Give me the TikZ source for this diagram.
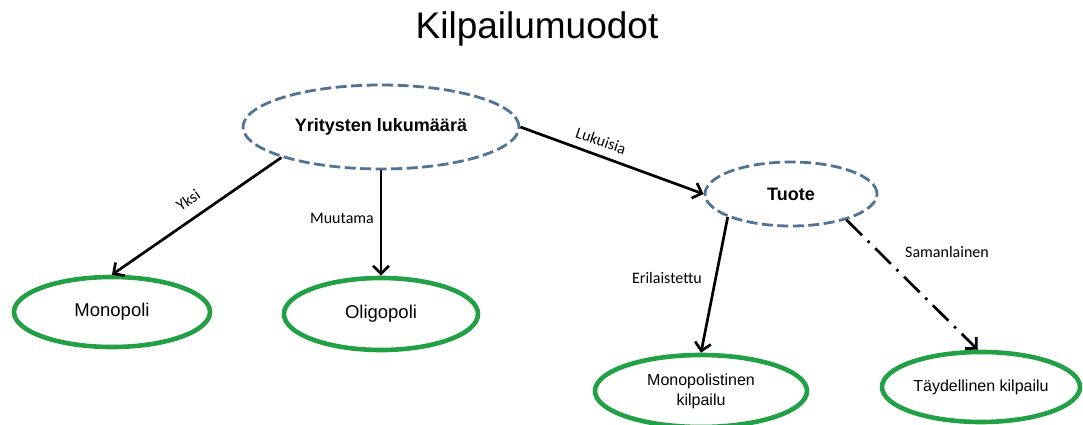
\documentclass[tikz,border=0pt]{standalone}
\usepackage{fontspec}
\setmainfont{Liberation Sans}
\newfontfamily\lbl{Carlito}
\usetikzlibrary{shapes.geometric,arrows.meta}
\definecolor{dashblue}{RGB}{82,116,148}
\definecolor{ovgreen}{RGB}{34,160,70}
\tikzset{
  qnode/.style={ellipse, draw=dashblue, line width=2.8pt, dash pattern=on 11pt off 4.5pt, inner sep=0pt, font=\fontsize{18}{20}\selectfont\bfseries},
  anode/.style={ellipse, draw=ovgreen, line width=4.6pt, inner sep=0pt, align=center},
  conn/.style={line width=2.7pt, -{Straight Barb[length=8pt,width=16pt]}},
  elabel/.style={font=\lbl\fontsize{16}{18}\selectfont, inner sep=0pt}
}
\begin{document}
\begin{tikzpicture}[x=1pt,y=-1pt]
\useasboundingbox (0,0) rectangle (1083,425);
\fill[white] (0,0) rectangle (1083,425);
\node[font=\fontsize{37}{40}\selectfont] (title) at (537,29) {Kilpailumuodot};
\node[qnode, minimum width=276pt, minimum height=84pt] (yl) at (381,127) {Yritysten lukumäärä};
\node[qnode, minimum width=172pt, minimum height=64pt] (tu) at (791,194) {Tuote};
\node[anode, minimum width=196pt, minimum height=70pt, font=\fontsize{18.5}{20}\selectfont] (mono) at (112,312) {Monopoli};
\node[anode, minimum width=194pt, minimum height=72pt, font=\fontsize{18.5}{20}\selectfont] (oli) at (381,314) {Oligopoli};
\node[anode, minimum width=212pt, minimum height=72pt, font=\fontsize{16}{20}\selectfont] (mk) at (701,391) {Monopolistinen\\kilpailu};
\node[anode, minimum width=198pt, minimum height=70pt, font=\fontsize{16}{20}\selectfont] (tk) at (981,387) {Täydellinen kilpailu};
\draw[conn] (yl.197.5) -- (mono.north);
\draw[conn] (yl) -- (oli);
\draw[conn] (yl.east) -- (tu.west);
\draw[conn] (tu.200) -- (mk.north);
\draw[conn, dash pattern=on 22pt off 8pt on 2.5pt off 8pt] (tu.-25) -- (tk.95);
\node[elabel, rotate=34.5] (lyksi) at (188,200) {Yksi};
\node[elabel] (lmuu) at (342,218) {Muutama};
\node[elabel, rotate=-19] (lluk) at (601,141) {Lukuisia};
\node[elabel] (leri) at (667,278) {Erilaistettu};
\node[elabel] (lsam) at (947,252) {Samanlainen};
\end{tikzpicture}
\end{document}
